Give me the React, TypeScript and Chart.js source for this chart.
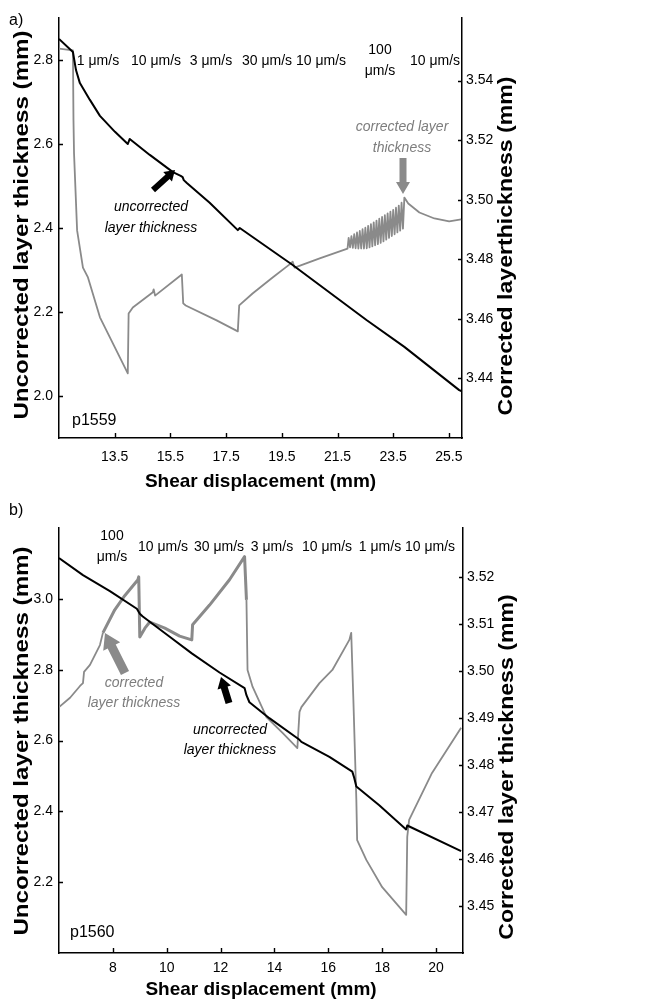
import React, { useEffect, useRef } from "react";
import { Chart, registerables } from "chart.js";

Chart.register(...registerables);

const FONT = "'Liberation Sans', Arial, Helvetica, sans-serif";
const GRAY = "rgb(138,138,138)";
const TEXT_GRAY = "rgb(125,125,125)";

// ---------------- Panel a) p1559 ----------------
const aUncorrX = [11.5, 12.0, 12.11, 12.25, 12.61, 12.97, 13.51, 13.97, 14.04, 14.76, 15.59, 15.87, 15.94, 15.98, 16.09, 16.91, 17.92, 17.99, 19.89, 22.54, 23.9, 25.87, 25.94];
const aUncorrY = [2.85, 2.819, 2.776, 2.745, 2.705, 2.667, 2.629, 2.6, 2.612, 2.574, 2.533, 2.524, 2.521, 2.514, 2.507, 2.46, 2.395, 2.4, 2.312, 2.181, 2.117, 2.014, 2.012];

const aCorrX = [
  11.5, 12.0, 12.02, 12.04, 12.15, 12.36, 12.54, 12.97, 13.97, 14.0, 14.15, 14.87, 14.9, 14.95, 15.91,
  15.96, 16.05, 17.16, 17.92, 17.97, 18.45, 19.17, 19.78, 19.89, 19.96, 20.86, 21.86,
  21.9, 21.95, 22.0, 22.05, 22.1, 22.15, 22.2, 22.25, 22.3, 22.35, 22.4, 22.45, 22.5, 22.55, 22.6, 22.65,
  22.7, 22.75, 22.8, 22.85, 22.9, 22.95, 23.0, 23.05, 23.1, 23.15, 23.2, 23.25, 23.3, 23.35, 23.4, 23.45,
  23.5, 23.55, 23.6, 23.65, 23.7, 23.75, 23.8, 23.85, 23.9,
  24.04, 24.44, 24.98, 25.51, 25.94,
];
const aCorrY = [
  3.5507, 3.5501, 3.5266, 3.5155, 3.4897, 3.4772, 3.4739, 3.4605, 3.4417, 3.4618, 3.4638, 3.4689, 3.4699, 3.4678, 3.4749,
  3.4652, 3.4645, 3.4595, 3.4558, 3.4645, 3.4685, 3.4739, 3.4783, 3.4792, 3.4772, 3.4803, 3.4836,
  3.4872, 3.484, 3.4878, 3.4838, 3.4884, 3.4837, 3.489, 3.4836, 3.4895, 3.4836, 3.4901, 3.4836, 3.4906, 3.4837, 3.4912, 3.484,
  3.4918, 3.4843, 3.4924, 3.4847, 3.493, 3.4851, 3.4936, 3.4855, 3.4942, 3.486, 3.4948, 3.4866, 3.4954, 3.4872, 3.496, 3.4878,
  3.4966, 3.4884, 3.4973, 3.489, 3.498, 3.4896, 3.499, 3.4903, 3.5007,
  3.4987, 3.4957, 3.4937, 3.4927, 3.4934,
];

const aXTicks = [13.5, 15.5, 17.5, 19.5, 21.5, 23.5, 25.5];
const aXTickLabels = ["13.5", "15.5", "17.5", "19.5", "21.5", "23.5", "25.5"];
const aLeftTicks = [2.0, 2.2, 2.4, 2.6, 2.8];
const aLeftTickLabels = ["2.0", "2.2", "2.4", "2.6", "2.8"];
const aRightTicks = [3.44, 3.46, 3.48, 3.5, 3.52, 3.54];
const aRightTickLabels = ["3.44", "3.46", "3.48", "3.50", "3.52", "3.54"];
const aRates = ["1 μm/s", "10 μm/s", "3 μm/s", "30 μm/s", "10 μm/s", "100\nμm/s", "10 μm/s"];

// ---------------- Panel b) p1560 ----------------
const bUncorrX = [6.0, 6.89, 7.89, 8.89, 9.0, 9.11, 10.11, 10.93, 11.96, 12.89, 12.96, 13.07, 13.81, 14.93, 15.0, 16.04, 16.89, 16.96, 17.04, 17.89, 18.89, 18.93, 20.93];
const bUncorrY = [3.115, 3.067, 3.022, 2.972, 2.958, 2.95, 2.893, 2.846, 2.792, 2.748, 2.728, 2.708, 2.663, 2.602, 2.596, 2.554, 2.512, 2.495, 2.47, 2.417, 2.349, 2.36, 2.2875];

const bCorrX = [
  6.0, 6.41, 6.78, 6.89, 6.93, 7.15, 7.52, 7.63, 8.07, 8.44, 8.93, 8.96, 9.0, 9.19, 9.37, 9.93, 10.48, 10.93,
  10.96, 11.59, 12.33, 12.89, 12.96, 13.0, 13.19, 13.7, 14.3, 14.85, 14.93, 15.0, 15.67, 16.15, 16.78, 16.85,
  16.93, 17.04, 17.07, 17.41, 18.0, 18.89, 18.93, 19.0, 19.85, 20.93,
];
const bCorrY = [
  3.4923, 3.4943, 3.4968, 3.4974, 3.4998, 3.5013, 3.5055, 3.5081, 3.513, 3.516, 3.5194, 3.52, 3.5072, 3.5091, 3.5104, 3.5091, 3.5074, 3.5066,
  3.5098, 3.514, 3.5194, 3.5243, 3.5151, 3.5002, 3.4966, 3.4902, 3.4868, 3.4836, 3.4913, 3.4923, 3.4974, 3.5002, 3.5066, 3.5081,
  3.4938, 3.4726, 3.464, 3.4598, 3.454, 3.4481, 3.4647, 3.4683, 3.4783, 3.4879,
];

const bXTicks = [8, 10, 12, 14, 16, 18, 20];
const bXTickLabels = ["8", "10", "12", "14", "16", "18", "20"];
const bLeftTicks = [2.2, 2.4, 2.6, 2.8, 3.0];
const bLeftTickLabels = ["2.2", "2.4", "2.6", "2.8", "3.0"];
const bRightTicks = [3.45, 3.46, 3.47, 3.48, 3.49, 3.5, 3.51, 3.52];
const bRightTickLabels = ["3.45", "3.46", "3.47", "3.48", "3.49", "3.50", "3.51", "3.52"];
const bRates = ["100\nμm/s", "10 μm/s", "30 μm/s", "3 μm/s", "10 μm/s", "1 μm/s", "10 μm/s"];

// ---------------- layout helpers ----------------
type TextItem = { t: string; x: number; y: number; color?: string; italic?: boolean; size?: number; align?: CanvasTextAlign };
type Arrow = { x1: number; y1: number; x2: number; y2: number; shaft: number; head: number; headLen: number; color: string };
type VTitle = { t: string; baseX: number; cy: number; stretch: number };

type PanelSpec = {
  height: number;
  padTop: number;
  xAxisH: number;
  rightW: number;
  xMin: number; xMax: number;
  lMin: number; lMax: number;
  rMin: number; rMax: number;
  xTicks: number[]; xTickLabels: string[];
  lTicks: number[]; lTickLabels: string[];
  rTicks: number[]; rTickLabels: string[];
  uX: number[]; uY: number[];
  cX: number[]; cY: number[];
  xTickPad: number; xTitlePad: number;
  vTitles: VTitle[];
  rates: string[]; rateX: number[]; rateY: number;
  texts: TextItem[];
  arrows: Arrow[];
  grayWidth: (x: number) => number;
};

function drawArrow(ctx: CanvasRenderingContext2D, a: Arrow) {
  const dx = a.x2 - a.x1, dy = a.y2 - a.y1;
  const len = Math.hypot(dx, dy);
  const ux = dx / len, uy = dy / len;
  const nx = -uy, ny = ux;
  const bx = a.x2 - ux * a.headLen, by = a.y2 - uy * a.headLen;
  ctx.fillStyle = a.color;
  ctx.beginPath();
  ctx.moveTo(a.x1 + nx * a.shaft / 2, a.y1 + ny * a.shaft / 2);
  ctx.lineTo(bx + nx * a.shaft / 2, by + ny * a.shaft / 2);
  ctx.lineTo(bx + nx * a.head / 2, by + ny * a.head / 2);
  ctx.lineTo(a.x2, a.y2);
  ctx.lineTo(bx - nx * a.head / 2, by - ny * a.head / 2);
  ctx.lineTo(bx - nx * a.shaft / 2, by - ny * a.shaft / 2);
  ctx.lineTo(a.x1 - nx * a.shaft / 2, a.y1 - ny * a.shaft / 2);
  ctx.closePath();
  ctx.fill();
}

function makeOverlay(p: PanelSpec) {
  return {
    id: "overlay",
    afterDraw(chart: any) {
      const ctx: CanvasRenderingContext2D = chart.ctx;
      const { x, y, y1 } = chart.scales;
      ctx.save();
      // inward tick marks
      ctx.strokeStyle = "#000";
      ctx.lineWidth = 1.4;
      ctx.beginPath();
      x.ticks.forEach((t: any) => {
        const px = Math.round(x.getPixelForValue(t.value)) + 0.5;
        ctx.moveTo(px, x.top);
        ctx.lineTo(px, x.top - 5);
      });
      y.ticks.forEach((t: any) => {
        const py = Math.round(y.getPixelForValue(t.value)) + 0.5;
        ctx.moveTo(y.right, py);
        ctx.lineTo(y.right + 4, py);
      });
      y1.ticks.forEach((t: any) => {
        const py = Math.round(y1.getPixelForValue(t.value)) + 0.5;
        ctx.moveTo(y1.left, py);
        ctx.lineTo(y1.left - 4, py);
      });
      ctx.stroke();

      // vertical axis titles (read bottom to top)
      p.vTitles.forEach((vt) => {
        ctx.save();
        ctx.translate(vt.baseX, vt.cy);
        ctx.rotate(-Math.PI / 2);
        ctx.scale(vt.stretch, 1);
        ctx.font = `bold 21px ${FONT}`;
        ctx.fillStyle = "#000";
        ctx.textAlign = "center";
        ctx.textBaseline = "alphabetic";
        ctx.fillText(vt.t, 0, 0);
        ctx.restore();
      });

      // rate labels
      ctx.font = `14px ${FONT}`;
      ctx.fillStyle = "#000";
      ctx.textAlign = "center";
      ctx.textBaseline = "middle";
      p.rates.forEach((r, i) => {
        const lines = r.split("\n");
        if (lines.length === 1) {
          ctx.fillText(lines[0], p.rateX[i], p.rateY);
        } else {
          ctx.fillText(lines[0], p.rateX[i], p.rateY - 11);
          ctx.fillText(lines[1], p.rateX[i], p.rateY + 10);
        }
      });

      // other texts
      p.texts.forEach((t) => {
        ctx.font = `${t.italic ? "italic " : ""}${t.size ?? 14}px ${FONT}`;
        ctx.fillStyle = t.color ?? "#000";
        ctx.textAlign = t.align ?? "center";
        ctx.textBaseline = "middle";
        ctx.fillText(t.t, t.x, t.y);
      });

      p.arrows.forEach((a) => drawArrow(ctx, a));
      ctx.restore();
    },
  };
}

function Panel({ p }: { p: PanelSpec }) {
  const ref = useRef<HTMLCanvasElement | null>(null);
  useEffect(() => {
    if (!ref.current) return;
    const tickFont = { family: FONT, size: 14 };
    const chart = new Chart(ref.current, {
      type: "line",
      data: {
        datasets: [
          {
            label: "uncorrected layer thickness",
            data: p.uX.map((v, i) => ({ x: v, y: p.uY[i] })),
            yAxisID: "y",
            borderColor: "#000",
            borderWidth: 2,
            pointRadius: 0,
            tension: 0,
            borderJoinStyle: "round",
          },
          {
            label: "corrected layer thickness",
            data: p.cX.map((v, i) => ({ x: v, y: p.cY[i] })),
            yAxisID: "y1",
            borderColor: GRAY,
            borderWidth: 2,
            pointRadius: 0,
            tension: 0,
            borderJoinStyle: "round",
            segment: {
              borderWidth: (c: any) => p.grayWidth(c.p0.parsed.x),
            },
          },
        ],
      },
      options: {
        responsive: false,
        animation: false,
        devicePixelRatio: 1,
        layout: { padding: { top: p.padTop, left: 0, right: 0, bottom: 0 } },
        plugins: { legend: { display: false }, tooltip: { enabled: false } },
        scales: {
          x: {
            type: "linear",
            position: "bottom",
            min: p.xMin,
            max: p.xMax,
            afterBuildTicks: (s: any) => { s.ticks = p.xTicks.map((v) => ({ value: v })); },
            afterFit: (s: any) => { s.height = p.xAxisH; },
            grid: { display: false, drawTicks: false },
            border: { display: true, color: "#000", width: 1.5 },
            ticks: {
              font: tickFont, color: "#000", padding: p.xTickPad, maxRotation: 0, autoSkip: false,
              callback: (_v: any, i: number) => p.xTickLabels[i],
            },
            title: {
              display: true, text: "Shear displacement (mm)", color: "#000",
              font: { family: FONT, size: 19, weight: "bold" },
              padding: { top: 0, bottom: p.xTitlePad },
            },
          },
          y: {
            type: "linear",
            position: "left",
            min: p.lMin,
            max: p.lMax,
            afterBuildTicks: (s: any) => { s.ticks = p.lTicks.map((v) => ({ value: v })); },
            afterFit: (s: any) => { s.width = 59; },
            grid: { display: false, drawTicks: false },
            border: { display: true, color: "#000", width: 1.5 },
            ticks: {
              font: tickFont, color: "#000", padding: 6, autoSkip: false,
              callback: (_v: any, i: number) => p.lTickLabels[i],
            },
          },
          y1: {
            type: "linear",
            position: "right",
            min: p.rMin,
            max: p.rMax,
            afterBuildTicks: (s: any) => { s.ticks = p.rTicks.map((v) => ({ value: v })); },
            afterFit: (s: any) => { s.width = p.rightW; },
            grid: { display: false, drawTicks: false },
            border: { display: true, color: "#000", width: 1.5 },
            ticks: {
              font: tickFont, color: "#000", padding: 4, autoSkip: false,
              callback: (_v: any, i: number) => p.rTickLabels[i],
            },
          },
        },
      },
      plugins: [makeOverlay(p)],
    } as any);
    return () => chart.destroy();
  }, [p]);
  return <canvas ref={ref} width={661} height={p.height} style={{ display: "block", width: 661, height: p.height }} />;
}

const panelA: PanelSpec = {
  height: 500, padTop: 18, xAxisH: 62, rightW: 199,
  xMin: 11.5, xMax: 25.97, lMin: 1.9, lMax: 2.9, rMin: 3.42, rMax: 3.561,
  xTicks: aXTicks, xTickLabels: aXTickLabels,
  lTicks: aLeftTicks, lTickLabels: aLeftTickLabels,
  rTicks: aRightTicks, rTickLabels: aRightTickLabels,
  uX: aUncorrX, uY: aUncorrY, cX: aCorrX, cY: aCorrY,
  xTickPad: 11, xTitlePad: 6.6,
  vTitles: [
    { t: "Uncorrected layer thickness (mm)", baseX: 27.5, cy: 225, stretch: 1.15 },
    { t: "Corrected layerthickness (mm)", baseX: 512, cy: 246, stretch: 1.1 },
  ],
  rates: aRates, rateX: [98, 156, 211, 267, 321, 380, 435], rateY: 61,
  texts: [
    { t: "a)", x: 9, y: 21, size: 16, align: "left" },
    { t: "uncorrected", x: 151, y: 207, italic: true },
    { t: "layer thickness", x: 151, y: 228, italic: true },
    { t: "corrected layer", x: 402, y: 127, italic: true, color: TEXT_GRAY },
    { t: "thickness", x: 402, y: 148, italic: true, color: TEXT_GRAY },
    { t: "p1559", x: 72, y: 421, size: 16, align: "left" },
  ],
  arrows: [
    { x1: 153, y1: 190, x2: 175, y2: 170, shaft: 6, head: 13, headLen: 10, color: "#000" },
    { x1: 403, y1: 158, x2: 403, y2: 194, shaft: 7, head: 14, headLen: 12, color: GRAY },
  ],
  grayWidth: () => 1.8,
};

const panelB: PanelSpec = {
  height: 502, padTop: 28, xAxisH: 49, rightW: 198,
  xMin: 6, xMax: 21, lMin: 2.0, lMax: 3.2, rMin: 3.44, rMax: 3.5304,
  xTicks: bXTicks, xTickLabels: bXTickLabels,
  lTicks: bLeftTicks, lTickLabels: bLeftTickLabels,
  rTicks: bRightTicks, rTickLabels: bRightTickLabels,
  uX: bUncorrX, uY: bUncorrY, cX: bCorrX, cY: bCorrY,
  xTickPad: 7, xTitlePad: 0.6,
  vTitles: [
    { t: "Uncorrected layer thickness (mm)", baseX: 27.5, cy: 241, stretch: 1.15 },
    { t: "Corrected layer thickness (mm)", baseX: 513, cy: 267, stretch: 1.1 },
  ],
  rates: bRates, rateX: [112, 163, 219, 272, 327, 380, 430], rateY: 47,
  texts: [
    { t: "b)", x: 9, y: 11, size: 16, align: "left" },
    { t: "corrected", x: 134, y: 183, italic: true, color: TEXT_GRAY },
    { t: "layer thickness", x: 134, y: 203, italic: true, color: TEXT_GRAY },
    { t: "uncorrected", x: 230, y: 230, italic: true },
    { t: "layer thickness", x: 230, y: 250, italic: true },
    { t: "p1560", x: 70, y: 433, size: 16, align: "left" },
  ],
  arrows: [
    { x1: 125, y1: 173, x2: 105, y2: 133, shaft: 9, head: 19, headLen: 15, color: GRAY },
    { x1: 229, y1: 203, x2: 221, y2: 177, shaft: 7, head: 14, headLen: 11, color: "#000" },
  ],
  grayWidth: (x: number) => (x >= 7.6 && x < 12.9 ? 3 : 1.8),
};

export default function App() {
  return (
    <div style={{ position: "absolute", left: 0, top: 0, width: 661, height: 1002, background: "#fff" }}>
      <Panel p={panelA} />
      <Panel p={panelB} />
    </div>
  );
}
